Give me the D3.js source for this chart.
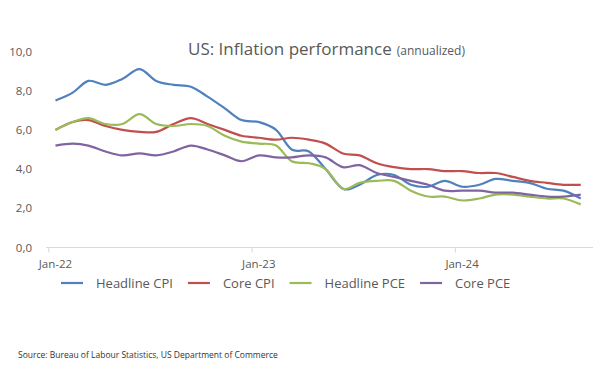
<!DOCTYPE html>
<html>
<head>
<meta charset="utf-8">
<script src="https://cdn.jsdelivr.net/npm/d3@7"></script>
<style>
  body { margin: 0; background: #fff; }
  text { font-family: "Open Sans", sans-serif; }
</style>
</head>
<body>
<div id="chart"></div>
<script>
// monthly data, Jan-22 .. Aug-24 (annual % change)
const months = d3.range(32).map(i => new Date(2022, i, 13));
const headlineCPI = [7.5, 7.9, 8.5, 8.3, 8.6, 9.1, 8.5, 8.3, 8.2, 7.7, 7.1, 6.5, 6.4, 6.0, 5.0, 4.9, 4.0, 3.0, 3.2, 3.7, 3.7, 3.2, 3.1, 3.4, 3.1, 3.2, 3.5, 3.4, 3.3, 3.0, 2.9, 2.5];
const coreCPI = [6.0, 6.4, 6.5, 6.2, 6.0, 5.9, 5.9, 6.3, 6.6, 6.3, 6.0, 5.7, 5.6, 5.5, 5.6, 5.5, 5.3, 4.8, 4.7, 4.3, 4.1, 4.0, 4.0, 3.9, 3.9, 3.8, 3.8, 3.6, 3.4, 3.3, 3.2, 3.2];
const headlinePCE = [6.0, 6.4, 6.6, 6.3, 6.3, 6.8, 6.3, 6.2, 6.3, 6.2, 5.7, 5.4, 5.3, 5.2, 4.4, 4.3, 4.0, 3.0, 3.3, 3.4, 3.4, 2.9, 2.6, 2.6, 2.4, 2.5, 2.7, 2.7, 2.6, 2.5, 2.5, 2.2];
const corePCE = [5.2, 5.3, 5.2, 4.9, 4.7, 4.8, 4.7, 4.9, 5.2, 5.0, 4.7, 4.4, 4.7, 4.6, 4.6, 4.7, 4.6, 4.1, 4.2, 3.8, 3.6, 3.4, 3.2, 2.9, 2.9, 2.9, 2.8, 2.8, 2.7, 2.6, 2.6, 2.7];
const seriesNames = ["Headline CPI", "Core CPI", "Headline PCE", "Core PCE"];
const colors = ["#4f81bd", "#c0504d", "#9bbb59", "#8064a2"];
const yTicks = [0, 2, 4, 6, 8, 10];
const xTickDates = [new Date(2022, 0, 1), new Date(2023, 0, 1), new Date(2024, 0, 1)];
const xTickLabels = ["Jan-22", "Jan-23", "Jan-24"];

const width = 600, height = 367;
const grey = "#595959";

const svg = d3.select("#chart")
  .append("svg")
  .attr("width", width)
  .attr("height", height);

const x = d3.scaleTime()
  .domain([new Date(2021, 11, 27), new Date(2024, 8, 4)])
  .range([46, 593]);
const y = d3.scaleLinear()
  .domain([0, 10])
  .range([247.5, 51.5]);

// title
const title = svg.append("text")
  .attr("x", 188)
  .attr("y", 54.5)
  .attr("fill", grey)
  .style("font-size", "17px")
  .text("US: Inflation performance");
title.append("tspan")
  .attr("dx", 5)
  .style("font-size", "12px")
  .text("(annualized)");

// y axis labels (no line)
svg.append("g")
  .selectAll("text")
  .data(yTicks)
  .join("text")
  .attr("x", 32)
  .attr("y", d => y(d) + 4)
  .attr("text-anchor", "end")
  .attr("fill", grey)
  .style("font-size", "11.5px")
  .text(d => d3.format(".1f")(d).replace(".", ","));

// x axis
const xAxis = svg.append("g");
xAxis.append("line")
  .attr("x1", x.range()[0]).attr("x2", x.range()[1])
  .attr("y1", y(0)).attr("y2", y(0))
  .attr("stroke", "#d9d9d9");
xAxis.selectAll(".tick")
  .data(xTickDates)
  .join("line")
  .attr("x1", d => x(d)).attr("x2", d => x(d))
  .attr("y1", y(0)).attr("y2", y(0) + 5)
  .attr("stroke", "#d9d9d9");
xAxis.selectAll("text")
  .data(xTickDates)
  .join("text")
  .attr("x", d => x(d3.timeDay.offset(d, 12)))
  .attr("y", 268)
  .attr("text-anchor", "middle")
  .attr("fill", grey)
  .style("font-size", "11.5px")
  .text((d, i) => xTickLabels[i]);

// lines
const allSeries = [headlineCPI, coreCPI, headlinePCE, corePCE];
const line = d3.line()
  .x((d, i) => x(months[i]))
  .y(d => y(d))
  .curve(d3.curveCardinal.tension(0));

svg.append("g")
  .selectAll("path")
  .data(allSeries)
  .join("path")
  .attr("d", line)
  .attr("fill", "none")
  .attr("stroke", (d, i) => colors[i])
  .attr("stroke-width", 2.2)
  .attr("stroke-linejoin", "round");

// legend
const legend = svg.append("g");
let lx = 61;
seriesNames.forEach((name, i) => {
  legend.append("line")
    .attr("x1", lx).attr("x2", lx + 22)
    .attr("y1", 283).attr("y2", 283)
    .attr("stroke", colors[i])
    .attr("stroke-width", 2.2);
  const t = legend.append("text")
    .attr("x", lx + 35)
    .attr("y", 287.5)
    .attr("fill", grey)
    .style("font-size", "13px")
    .text(name);
  lx += 35 + t.node().getComputedTextLength() + 15;
});

// source note
svg.append("text")
  .attr("x", 18)
  .attr("y", 358)
  .attr("fill", "#333")
  .style("font-size", "8.5px")
  .text("Source: Bureau of Labour Statistics, US Department of Commerce");
</script>
</body>
</html>
